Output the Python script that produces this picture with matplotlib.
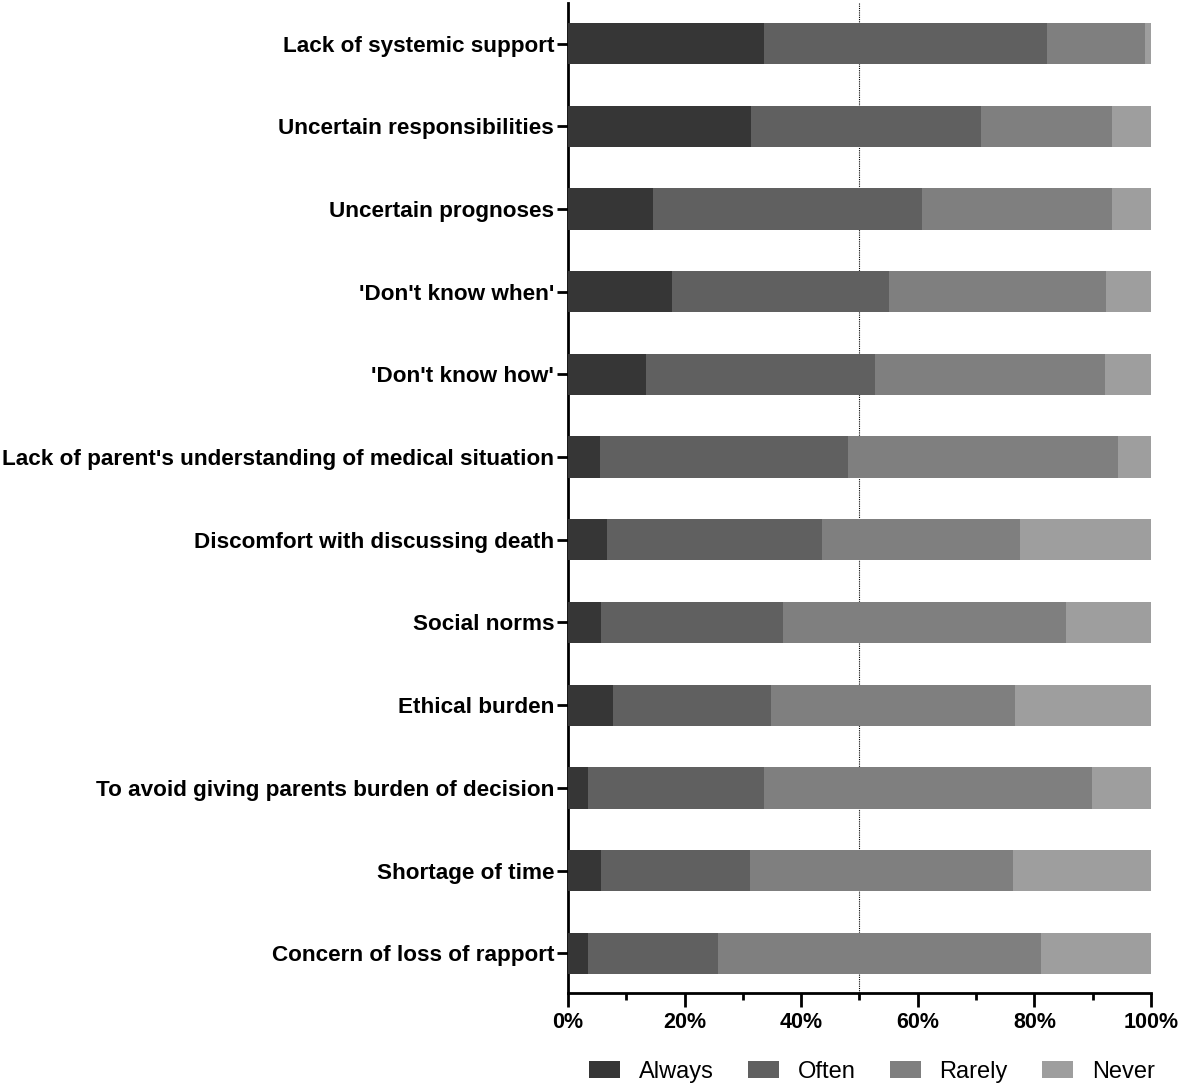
import matplotlib
matplotlib.use("Agg")
import matplotlib.pyplot as plt
import numpy as np
from matplotlib.ticker import MultipleLocator, FuncFormatter

categories = [
    "Lack of systemic support",
    "Uncertain responsibilities",
    "Uncertain prognoses",
    "'Don't know when'",
    "'Don't know how'",
    "Lack of parent's understanding of medical situation",
    "Discomfort with discussing death",
    "Social norms",
    "Ethical burden",
    "To avoid giving parents burden of decision",
    "Shortage of time",
    "Concern of loss of rapport",
]
always = [33.7, 31.4, 14.6, 17.9, 13.4, 5.5, 6.7, 5.7, 7.7, 3.4, 5.7, 3.4]
often = [48.4, 39.4, 46.1, 37.1, 39.3, 42.6, 36.9, 31.2, 27.2, 30.3, 25.6, 22.4]
rarely = [16.9, 22.5, 32.6, 37.3, 39.4, 46.2, 33.9, 48.5, 41.7, 56.2, 45.0, 55.3]
never = [1.0, 6.7, 6.7, 7.7, 7.9, 5.7, 22.5, 14.6, 23.4, 10.1, 23.7, 18.9]
series_names = ["Always", "Often", "Rarely", "Never"]
colors = ["#363636", "#606060", "#7f7f7f", "#9e9e9e"]

plt.rcParams['font.family'] = ['Liberation Sans', 'DejaVu Sans']

fig = plt.figure(figsize=(11.81, 10.88), dpi=100)
ax = fig.add_axes([568/1181, 1 - 993/1088, (1151-568)/1181, (993-3)/1088])

y = np.arange(len(categories))
left = np.zeros(len(categories))
for vals, name, c in zip([always, often, rarely, never], series_names, colors):
    ax.barh(y, vals, left=left, height=0.5, color=c, label=name, zorder=3)
    left += np.array(vals)

ax.axvline(50, color='black', linestyle=(0, (1, 1)), linewidth=0.8, zorder=1)

ax.set_xlim(0, 100)
ax.set_ylim(len(categories) - 1 + 0.48, -0.49)
ax.set_yticks(y)
ax.set_yticklabels(categories, fontsize=16.2, fontweight='bold')
ax.xaxis.set_major_locator(MultipleLocator(20))
ax.xaxis.set_minor_locator(MultipleLocator(10))
ax.xaxis.set_major_formatter(FuncFormatter(lambda v, p: f"{int(v)}%"))
ax.tick_params(axis='x', which='major', length=10, width=2.0, pad=4, labelsize=15.5)
ax.tick_params(axis='x', which='minor', length=5, width=2.0)
ax.tick_params(axis='y', length=8, width=2.0, pad=2)
for lab in ax.get_xticklabels():
    lab.set_fontweight('bold')

for s in ['top', 'right']:
    ax.spines[s].set_visible(False)
for s in ['left', 'bottom']:
    ax.spines[s].set_linewidth(2.0)

handles, labels = ax.get_legend_handles_labels()
fig.legend(handles, labels, ncol=4, loc='center', bbox_to_anchor=(872/1181, 1 - 1072/1088),
           frameon=False, fontsize=17, handlelength=1.3, handleheight=0.75,
           handletextpad=0.8, columnspacing=1.45, borderaxespad=0)

fig.savefig("out.png", dpi=100)
